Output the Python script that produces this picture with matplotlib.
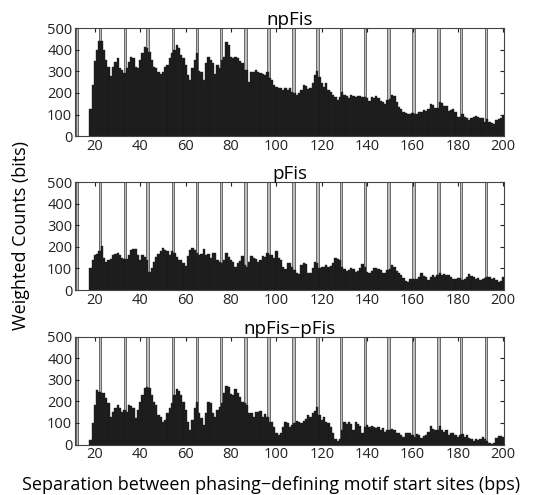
import numpy as np
import matplotlib
matplotlib.use('Agg')
import matplotlib.pyplot as plt

plt.rcParams['font.family'] = ['Open Sans', 'DejaVu Sans']

# separation bins (bps) and weighted counts
bins = np.arange(18, 201)

npfis = [128, 237, 348, 399, 441, 441, 399, 353, 322, 280,
         322, 342, 361, 317, 307, 294, 317, 345, 367, 361,
         322, 317, 353, 384, 415, 407, 392, 353, 322, 314,
         299, 286, 299, 322, 330, 361, 384, 399, 423, 410,
         376, 361, 330, 283, 260, 314, 353, 384, 302, 299,
         260, 337, 365, 353, 337, 286, 330, 317, 353, 368,
         435, 423, 368, 361, 368, 364, 348, 337, 307, 307,
         252, 296, 299, 307, 299, 291, 286, 283, 296, 271,
         260, 237, 229, 221, 224, 214, 224, 214, 221, 206,
         198, 190, 198, 214, 237, 234, 218, 221, 245, 283,
         302, 276, 245, 229, 245, 214, 206, 190, 183, 167,
         183, 203, 190, 187, 175, 190, 187, 183, 186, 184,
         183, 183, 175, 163, 183, 175, 186, 178, 163, 159,
         147, 167, 172, 190, 186, 156, 136, 128, 110, 105,
         101, 102, 105, 101, 104, 110, 113, 121, 116, 128,
         147, 144, 132, 132, 159, 152, 141, 139, 116, 121,
         125, 113, 90, 90, 101, 90, 85, 74, 82, 90,
         94, 90, 82, 85, 67, 79, 67, 63, 54, 74,
         79, 85, 98]

pfis = [101, 140, 163, 168, 179, 202, 148, 132, 140, 143,
        163, 168, 174, 163, 148, 143, 143, 163, 186, 189,
        189, 163, 140, 163, 155, 140, 85, 101, 132, 152,
        168, 179, 194, 186, 179, 163, 179, 174, 155, 140,
        140, 124, 112, 158, 186, 194, 186, 174, 163, 168,
        189, 163, 168, 148, 171, 174, 140, 132, 127, 140,
        171, 152, 140, 132, 109, 127, 137, 158, 116, 106,
        132, 158, 148, 143, 132, 140, 158, 152, 174, 163,
        163, 148, 179, 148, 140, 106, 96, 124, 127, 106,
        95, 78, 75, 116, 124, 121, 78, 81, 101, 132,
        127, 101, 106, 106, 116, 106, 112, 124, 148, 143,
        140, 106, 96, 90, 93, 101, 96, 85, 90, 101,
        121, 106, 85, 81, 90, 101, 101, 96, 93, 78,
        78, 93, 96, 116, 106, 90, 78, 70, 54, 43,
        39, 50, 50, 53, 50, 59, 78, 65, 59, 47,
        59, 70, 62, 70, 81, 70, 75, 70, 70, 62,
        50, 50, 54, 54, 47, 50, 62, 75, 65, 59,
        50, 54, 47, 50, 54, 62, 59, 50, 54, 47,
        39, 43, 62]

diff = [22, 98, 183, 252, 245, 240, 237, 214, 191, 129,
        152, 168, 183, 168, 152, 160, 152, 183, 178, 168,
        122, 160, 198, 229, 260, 268, 260, 229, 198, 183,
        137, 129, 106, 114, 145, 168, 191, 229, 255, 249,
        229, 198, 160, 106, 68, 114, 168, 198, 145, 122,
        91, 145, 198, 191, 145, 129, 160, 175, 191, 237,
        272, 265, 235, 229, 255, 240, 221, 198, 191, 183,
        145, 145, 129, 152, 152, 157, 129, 141, 129, 106,
        102, 83, 55, 45, 55, 83, 106, 98, 80, 91,
        98, 111, 106, 98, 111, 117, 137, 129, 145, 157,
        175, 137, 114, 126, 106, 98, 83, 52, 25, 14,
        25, 68, 102, 95, 102, 95, 68, 102, 95, 86,
        52, 80, 91, 83, 85, 83, 75, 80, 68, 75,
        60, 68, 68, 71, 68, 55, 55, 45, 34, 52,
        55, 52, 45, 37, 49, 45, 29, 40, 45, 60,
        86, 71, 68, 65, 86, 65, 60, 65, 45, 52,
        55, 45, 37, 45, 49, 37, 45, 29, 25, 18,
        25, 22, 25, 34, 25, 14, 6, 2, 6, 29,
        40, 40, 34]

# helical-repeat marker positions
markers = [12.2, 22.2, 33.2, 43.1, 54.3, 65.1, 75.6, 86.3, 96.5, 107.5,
           118.1, 128.5, 139.1, 149.4, 160.4, 171.4, 181.4, 192.5]

titles = ['npFis', 'pFis', 'npFis\u2212pFis']
series = [npfis, pfis, diff]
xticks = list(range(20, 201, 20))
yticks = list(range(0, 501, 100))

fig = plt.figure(figsize=(5.36, 4.95), dpi=100)
bottoms = [0.725, 0.414, 0.102]
height = 0.218

for title, vals, b in zip(titles, series, bottoms):
    ax = fig.add_axes([0.140, b, 0.801, height])
    ax.bar(markers, [500] * len(markers), width=1.0, color='#bcbcbc',
           edgecolor='#555555', linewidth=0.6, zorder=1)
    ax.bar(bins, vals, width=1.0, color='#1a1a1a', edgecolor='#262626',
           linewidth=0.3, zorder=2)
    ax.set_xlim(11.2, 200.5)
    ax.set_ylim(0, 500)
    ax.set_xticks(xticks)
    ax.set_yticks(yticks)
    ax.tick_params(direction='in', top=True, right=True, length=3,
                   labelsize=10.5, colors='#222222', pad=2)
    for sp in ax.spines.values():
        sp.set_color('#444444')
        sp.set_linewidth(0.8)
    ax.set_title(title, fontsize=13.5, pad=2)

fig.text(0.04, 0.525, 'Weighted Counts (bits)', rotation=90,
         ha='center', va='center', fontsize=13)
fig.text(0.505, 0.02, 'Separation between phasing\u2212defining motif start sites (bps)',
         ha='center', va='center', fontsize=13)

fig.savefig('out.png', dpi=100)
